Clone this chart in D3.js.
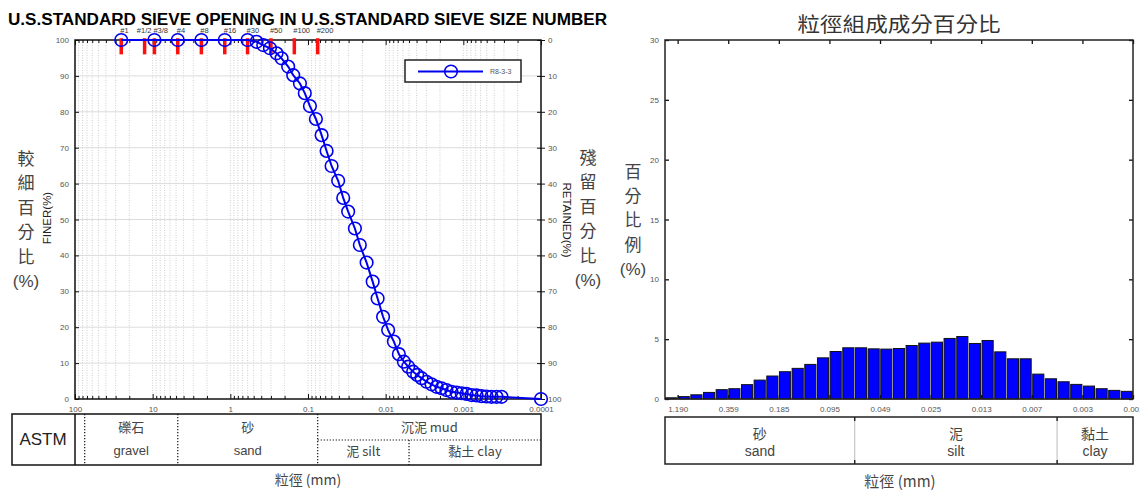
<!DOCTYPE html>
<html>
<head>
<meta charset="utf-8">
<script src="https://cdn.jsdelivr.net/npm/d3@7"></script>
<style>
  body { margin: 0; background: #fff; }
  text { font-family: "Liberation Sans", Arial, sans-serif; }
  .cjk { font-family: "Noto Sans CJK TC", "Noto Sans CJK SC", sans-serif; }
</style>
</head>
<body>
<svg id="chart" width="1140" height="490"></svg>
<script>
// ---- data ----
var sieveLabels = ["#1", "#1/2", "#3/8", "#4", "#8", "#16", "#30", "#50", "#100", "#200"];
var sieveSizes = [25.4, 12.7, 9.5, 4.75, 2.36, 1.18, 0.6, 0.3, 0.15, 0.075];

// grain size curve (mm, % finer)
var grainSize = [25.4, 9.5, 4.75, 2.36, 1.18, 0.6,
  0.459, 0.377, 0.309, 0.254, 0.219, 0.180, 0.155, 0.127, 0.110, 0.0945,
  0.0791, 0.0668, 0.0576, 0.0497, 0.0409, 0.0352, 0.0304, 0.0249, 0.0215, 0.0176,
  0.0147, 0.0127, 0.0108, 0.00929, 0.00784, 0.00676, 0.00583, 0.00513, 0.00443, 0.00393,
  0.00345, 0.00298, 0.00257, 0.00221, 0.00191, 0.00165, 0.00142, 0.00122, 0.00105, 0.00091,
  0.000784, 0.000676, 0.000583, 0.000503, 0.000434, 0.000374, 0.000322, 0.0001];
var finer = [100, 100, 100, 100, 100, 100,
  99.5, 98.6, 97.7, 96.3, 94.9, 92.6, 90.2, 87.9, 85.2, 81.6,
  78, 73.5, 69.1, 64.9, 60.8, 56, 52.2, 47.5, 42.9, 38,
  32.7, 28, 22.9, 19.2, 16, 12.5, 10.4, 9, 7.6, 6.7,
  5.8, 4.8, 4.1, 3.4, 3, 2.5, 2, 1.8, 1.6, 1.4,
  1.1, 1, 0.8, 0.7, 0.6, 0.6, 0.6, 0];

var xTickValues = [100, 10, 1, 0.1, 0.01, 0.001, 0.0001];
var xTickLabels = ["100", "10", "1", "0.1", "0.01", "0.001", "0.0001"];
var seriesName = "R8-3-3";

// ASTM class limits (mm)
var astmLimits = [75, 4.75, 0.075, 0.005];

// histogram (% per bin)
var binPercent = [0.1, 0.2, 0.35, 0.55, 0.78, 0.86, 1.2, 1.58, 1.92, 2.28, 2.56, 2.89,
  3.44, 3.97, 4.28, 4.28, 4.19, 4.17, 4.22, 4.47, 4.67, 4.75, 5.06, 5.22, 4.64, 4.89,
  3.94, 3.36, 3.36, 2.08, 1.69, 1.44, 1.22, 1.08, 0.86, 0.72, 0.64];
var binLabels = ["1.190", "0.359", "0.185", "0.095", "0.049", "0.025", "0.013", "0.007", "0.003", "0.001"];
var binLabelEdges = [1, 5, 9, 13, 17, 21, 25, 29, 33, 37];
var classEdges = [15, 31];

var svg = d3.select("#chart");
var gray = "#555";

function stackText(g, chars, x, y0, step, size) {
  chars.forEach(function(c, i) {
    g.append("text")
      .attr("class", c.indexOf("%") >= 0 ? "" : "cjk")
      .attr("x", x).attr("y", y0 + i * step)
      .attr("text-anchor", "middle").attr("dominant-baseline", "middle")
      .attr("font-size", size).attr("fill", "#444")
      .text(c);
  });
}

// ================= LEFT CHART =================
var x = d3.scaleLog().domain([100, 0.0001]).range([75, 541]);
var y = d3.scaleLinear().domain([0, 100]).range([399, 40]);
var yR = d3.scaleLinear().domain([100, 0]).range([399, 40]);

svg.append("text")
  .attr("x", 8).attr("y", 25)
  .attr("font-size", 16).attr("font-weight", "bold")
  .attr("textLength", 599).attr("lengthAdjust", "spacingAndGlyphs")
  .text("U.S.STANDARD SIEVE OPENING IN U.S.STANDARD SIEVE SIZE NUMBER");

var left = svg.append("g");

// grid
left.selectAll("line.vgrid")
  .data(x.ticks())
  .enter().append("line")
  .attr("x1", function(d) { return x(d); }).attr("x2", function(d) { return x(d); })
  .attr("y1", 40).attr("y2", 399)
  .attr("stroke", "#c4c4c4").attr("stroke-width", 0.8).attr("stroke-dasharray", "1,1.5");
left.selectAll("line.hgrid")
  .data(d3.range(10, 100, 10))
  .enter().append("line")
  .attr("x1", 75).attr("x2", 541)
  .attr("y1", function(d) { return y(d); }).attr("y2", function(d) { return y(d); })
  .attr("stroke", "#dcdcdc").attr("stroke-width", 1);

// axes
var minor = x.ticks().filter(function(d) { return xTickValues.indexOf(d) < 0; });
left.append("g").attr("transform", "translate(0,399)")
  .call(d3.axisBottom(x).tickValues(xTickValues)
    .tickFormat(function(d, i) { return xTickLabels[i]; })
    .tickSize(-5).tickPadding(7));
left.append("g").attr("transform", "translate(0,399)")
  .call(d3.axisBottom(x).tickValues(minor).tickFormat("").tickSize(-3));
left.append("g").attr("transform", "translate(0,40)")
  .call(d3.axisTop(x).tickValues(xTickValues).tickFormat("").tickSize(-5));
left.append("g").attr("transform", "translate(0,40)")
  .call(d3.axisTop(x).tickValues(minor).tickFormat("").tickSize(-3));
left.append("g").attr("transform", "translate(75,0)")
  .call(d3.axisLeft(y).ticks(10).tickSize(-4).tickPadding(6));
left.append("g").attr("transform", "translate(541,0)")
  .call(d3.axisRight(yR).ticks(10).tickSize(4).tickPadding(3));
left.append("g").attr("transform", "translate(541,0)")
  .call(d3.axisRight(yR).ticks(10).tickFormat("").tickSize(-4));
left.selectAll(".domain").remove();
left.selectAll(".tick text").attr("font-size", 8).attr("fill", gray);
left.selectAll(".tick line").attr("stroke", "#111");

left.append("rect")
  .attr("x", 75).attr("y", 40).attr("width", 466).attr("height", 359)
  .attr("fill", "none").attr("stroke", "#111").attr("stroke-width", 1.5);

// sieve marks
left.selectAll("line.sieve")
  .data(sieveSizes)
  .enter().append("line")
  .attr("x1", function(d) { return x(d); }).attr("x2", function(d) { return x(d); })
  .attr("y1", y(100.5)).attr("y2", y(96))
  .attr("stroke", "#ff1010").attr("stroke-width", 3.5);
left.selectAll("text.sieve")
  .data(sieveSizes)
  .enter().append("text")
  .attr("x", function(d, i) { return i == 1 ? x(d) - 0.5 : x(d) - 1; })
  .attr("y", 33)
  .attr("text-anchor", function(d, i) { return i == 1 ? "middle" : "start"; })
  .attr("font-size", 7.5).attr("fill", "#333")
  .text(function(d, i) { return sieveLabels[i]; });

// curve
var pts = grainSize.map(function(d, i) { return [d, finer[i]]; });
var line = d3.line()
  .x(function(d) { return x(d[0]); })
  .y(function(d) { return y(d[1]); });
left.append("path")
  .attr("d", line(pts))
  .attr("fill", "none").attr("stroke", "#0000ee").attr("stroke-width", 2);
left.selectAll("circle.pt")
  .data(pts)
  .enter().append("circle")
  .attr("cx", function(d) { return x(d[0]); })
  .attr("cy", function(d) { return y(d[1]); })
  .attr("r", 6.3)
  .attr("fill", "none").attr("stroke", "#0000ee").attr("stroke-width", 1.6);

// legend
var lg = left.append("g");
lg.append("rect").attr("x", 405).attr("y", 60).attr("width", 116).attr("height", 22)
  .attr("fill", "#fff").attr("stroke", "#222").attr("stroke-width", 1.5);
lg.append("line").attr("x1", 418).attr("x2", 483).attr("y1", 71.5).attr("y2", 71.5)
  .attr("stroke", "#0000ee").attr("stroke-width", 2);
lg.append("circle").attr("cx", 451).attr("cy", 71.5).attr("r", 6.3)
  .attr("fill", "none").attr("stroke", "#0000ee").attr("stroke-width", 1.6);
lg.append("text").attr("x", 490).attr("y", 74).attr("font-size", 7).attr("fill", gray)
  .text(seriesName);

// axis titles
stackText(left, ["較", "細", "百", "分", "比", "(%)"], 26, 160, 24.5, 17);
left.append("text")
  .attr("transform", "translate(51,218) rotate(-90)")
  .attr("text-anchor", "middle").attr("font-size", 11.5).attr("fill", "#222")
  .text("FINER(%)");
left.append("text")
  .attr("transform", "translate(563,220) rotate(90)")
  .attr("text-anchor", "middle").attr("font-size", 11.5).attr("fill", "#222")
  .text("RETAINED(%)");
stackText(left, ["殘", "留", "百", "分", "比", "(%)"], 588, 159, 24.6, 17);

// ASTM table
var tb = left.append("g");
var tTop = 414, tBot = 465, tMid = 440;
tb.append("rect").attr("x", 12).attr("y", tTop).attr("width", 529).attr("height", tBot - tTop)
  .attr("fill", "none").attr("stroke", "#111").attr("stroke-width", 1.5);
tb.append("line").attr("x1", 75).attr("x2", 75).attr("y1", tTop).attr("y2", tBot)
  .attr("stroke", "#111").attr("stroke-width", 1.5);
tb.selectAll("line.lim")
  .data(astmLimits)
  .enter().append("line")
  .attr("x1", function(d) { return x(d); }).attr("x2", function(d) { return x(d); })
  .attr("y1", function(d, i) { return i == 3 ? tMid : tTop; }).attr("y2", tBot)
  .attr("stroke", "#111").attr("stroke-width", 1.2).attr("stroke-dasharray", "1.2,1.8");
tb.append("line").attr("x1", x(astmLimits[2])).attr("x2", 541).attr("y1", tMid).attr("y2", tMid)
  .attr("stroke", "#111").attr("stroke-width", 1.2).attr("stroke-dasharray", "1.2,1.8");
tb.append("text").attr("x", 43).attr("y", 441).attr("text-anchor", "middle")
  .attr("dominant-baseline", "middle").attr("font-size", 17).attr("fill", "#222").text("ASTM");

function cell(g, cx, cy, txt, cls, size) {
  g.append("text").attr("class", cls).attr("x", cx).attr("y", cy)
    .attr("text-anchor", "middle").attr("dominant-baseline", "middle")
    .attr("font-size", size).attr("fill", "#444").text(txt);
}
var gMid = (x(astmLimits[0]) + x(astmLimits[1])) / 2;
var sMid = (x(astmLimits[1]) + x(astmLimits[2])) / 2;
cell(tb, gMid, 428, "礫石", "cjk", 13);
cell(tb, gMid, 452, "gravel", "", 13);
cell(tb, sMid, 428, "砂", "cjk", 13);
cell(tb, sMid, 452, "sand", "", 13);
cell(tb, (x(astmLimits[2]) + 541) / 2, 428, "沉泥 mud", "cjk", 13);
cell(tb, (x(astmLimits[2]) + x(astmLimits[3])) / 2, 452, "泥 silt", "cjk", 13);
cell(tb, (x(astmLimits[3]) + 541) / 2, 452, "黏土 clay", "cjk", 13);
cell(svg, 308, 481, "粒徑 (mm)", "cjk", 14);

// ================= RIGHT CHART =================
var right = svg.append("g");
var bx = d3.scaleBand().domain(d3.range(binPercent.length)).range([665, 1133]).paddingInner(0.12).paddingOuter(0.04);
var ex = d3.scaleLinear().domain([0, binPercent.length]).range([665, 1133]);
var by = d3.scaleLinear().domain([0, 30]).range([399, 40]);

right.append("text").attr("class", "cjk")
  .attr("x", 899).attr("y", 27).attr("text-anchor", "middle").attr("dominant-baseline", "middle")
  .attr("font-size", 20).attr("fill", "#333")
  .attr("textLength", 203).attr("lengthAdjust", "spacingAndGlyphs")
  .text("粒徑組成成分百分比");

right.selectAll("rect.bar")
  .data(binPercent)
  .enter().append("rect")
  .attr("x", function(d, i) { return bx(i); })
  .attr("y", function(d) { return by(d); })
  .attr("width", bx.bandwidth())
  .attr("height", function(d) { return by(0) - by(d); })
  .attr("fill", "#0000ff").attr("stroke", "#111").attr("stroke-width", 1);

var yt = d3.range(0, 31, 5);
right.append("g").attr("transform", "translate(665,0)")
  .call(d3.axisLeft(by).tickValues(yt).tickSize(-4).tickPadding(6));
right.append("g").attr("transform", "translate(1133,0)")
  .call(d3.axisRight(by).tickValues(yt).tickFormat("").tickSize(-4));
right.append("g").attr("transform", "translate(0,399)")
  .call(d3.axisBottom(ex).tickValues(binLabelEdges)
    .tickFormat(function(d, i) { return binLabels[i]; })
    .tickSize(-4).tickPadding(7));
right.append("g").attr("transform", "translate(0,40)")
  .call(d3.axisTop(ex).tickValues(binLabelEdges).tickFormat("").tickSize(-4));
right.selectAll(".domain").remove();
right.selectAll(".tick text").attr("font-size", 8).attr("fill", gray);
right.selectAll(".tick line").attr("stroke", "#111").attr("stroke-width", 1.3);

right.append("rect")
  .attr("x", 665).attr("y", 40).attr("width", 468).attr("height", 359)
  .attr("fill", "none").attr("stroke", "#222").attr("stroke-width", 1.5);

stackText(right, ["百", "分", "比", "例", "(%)"], 633, 173, 24.3, 17);

// class table
var rTop = 417, rBot = 464;
right.append("rect").attr("x", 665).attr("y", rTop).attr("width", 468).attr("height", rBot - rTop)
  .attr("fill", "none").attr("stroke", "#222").attr("stroke-width", 1.5);
classEdges.forEach(function(e) {
  right.append("line").attr("x1", ex(e)).attr("x2", ex(e)).attr("y1", rTop).attr("y2", rBot)
    .attr("stroke", "#aaa").attr("stroke-width", 0.8);
  right.append("line").attr("x1", ex(e)).attr("x2", ex(e)).attr("y1", rTop).attr("y2", rTop + 4)
    .attr("stroke", "#111").attr("stroke-width", 1.3);
  right.append("line").attr("x1", ex(e)).attr("x2", ex(e)).attr("y1", rBot - 4).attr("y2", rBot)
    .attr("stroke", "#111").attr("stroke-width", 1.3);
});
var c1 = (665 + ex(classEdges[0])) / 2;
var c2 = (ex(classEdges[0]) + ex(classEdges[1])) / 2;
var c3 = (ex(classEdges[1]) + 1133) / 2;
cell(right, c1, 435, "砂", "cjk", 14);
cell(right, c1, 452, "sand", "", 14);
cell(right, c2, 435, "泥", "cjk", 14);
cell(right, c2, 452, "silt", "", 14);
cell(right, c3, 435, "黏土", "cjk", 14);
cell(right, c3, 452, "clay", "", 14);
cell(svg, 900, 483, "粒徑 (mm)", "cjk", 15);
</script>
</body>
</html>
